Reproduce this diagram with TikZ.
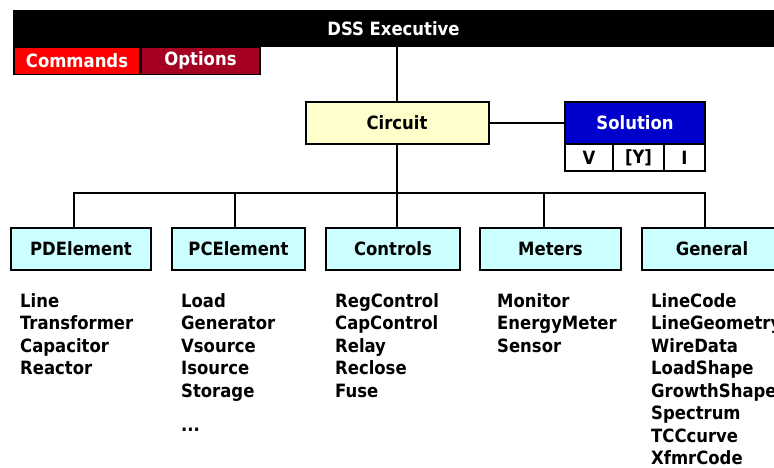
\documentclass[tikz,border=0pt]{standalone}
\usepackage{fontspec}
\setmainfont{DejaVu Sans Condensed}
\definecolor{cmdred}{HTML}{FF0000}
\definecolor{optred}{HTML}{A50021}
\definecolor{solblue}{HTML}{0000CC}
\definecolor{circyellow}{HTML}{FFFFCC}
\definecolor{classcyan}{HTML}{CCFFFF}
\begin{document}
\begin{tikzpicture}[x=1pt,y=-1pt,
  lbl/.style={font=\fontsize{18.3}{22.5}\selectfont\bfseries},
  box/.style={lbl, draw=black, line width=2pt, inner sep=0pt, minimum height=42},
  classbox/.style={box, fill=classcyan, minimum width=138},
  cell/.style={lbl, draw=black, line width=2pt, inner sep=0pt, minimum height=27, fill=white},
  tab/.style={lbl, text=white, inner sep=0pt, minimum height=26},
  conn/.style={line width=2pt, black},
  item/.style={lbl, anchor=north west, inner sep=0pt, align=left}
]
\useasboundingbox (0,0) rectangle (774,467);
% executive bar
\fill[black] (13,47) rectangle (261,75);
\node[lbl, fill=black, text=white, inner sep=0pt, minimum width=761, minimum height=37] (exec) at (393.5,28.5) {DSS Executive};
\node[tab, fill=cmdred, minimum width=124] (cmd) at (77,60.5) {Commands};
\node[tab, fill=optred, minimum width=117] (opt) at (200.5,60.5) {Options};
% circuit and solution
\node[box, fill=circyellow, minimum width=183] (circ) at (397,123) {Circuit};
\node[box, fill=solblue, text=white, minimum width=140] (sol) at (635,123) {Solution};
\node[cell, minimum width=48] (v) at (589,157.5) {V};
\node[cell, minimum width=51] (y) at (638.5,157.5) {[Y]};
\node[cell, minimum width=41] (i) at (684.5,157.5) {I};
\draw[conn] (circ.north) -- (circ.north |- exec.south);
\draw[conn] (circ.east) -- (sol.west);
% classes
\node[classbox, minimum width=140] (pd) at (81,249) {PDElement};
\node[classbox, minimum width=133] (pc) at (238.5,249) {PCElement};
\node[classbox, minimum width=134] (ctl) at (393,249) {Controls};
\node[classbox, minimum width=141] (met) at (550.5,249) {Meters};
\node[classbox, minimum width=140] (gen) at (712,249) {General};
\coordinate (dpd) at (74,193);
\coordinate (dpc) at (235,193);
\coordinate (dctl) at (397,193);
\coordinate (dmet) at (544,193);
\coordinate (dgen) at (705,193);
\draw[conn] (circ.south) -- (dctl);
\draw[conn] (dpd |- pd.north) -- (dpd) -- (dgen) -- (dgen |- gen.north);
\draw[conn] (dpc) -- (dpc |- pc.north);
\draw[conn] (dctl) -- (dctl |- ctl.north);
\draw[conn] (dmet) -- (dmet |- met.north);
% lists
\node[item] (lpd) at (20,293) {Line\\Transformer\\Capacitor\\Reactor};
\node[item] (lpc) at (181,293) {Load\\Generator\\Vsource\\Isource\\Storage\\[12pt]...};
\node[item] (lctl) at (335,293) {RegControl\\CapControl\\Relay\\Reclose\\Fuse};
\node[item] (lmet) at (497,293) {Monitor\\EnergyMeter\\Sensor};
\node[item] (lgen) at (651,293) {LineCode\\LineGeometry\\WireData\\LoadShape\\GrowthShape\\Spectrum\\TCCcurve\\XfmrCode};
\end{tikzpicture}
\end{document}
